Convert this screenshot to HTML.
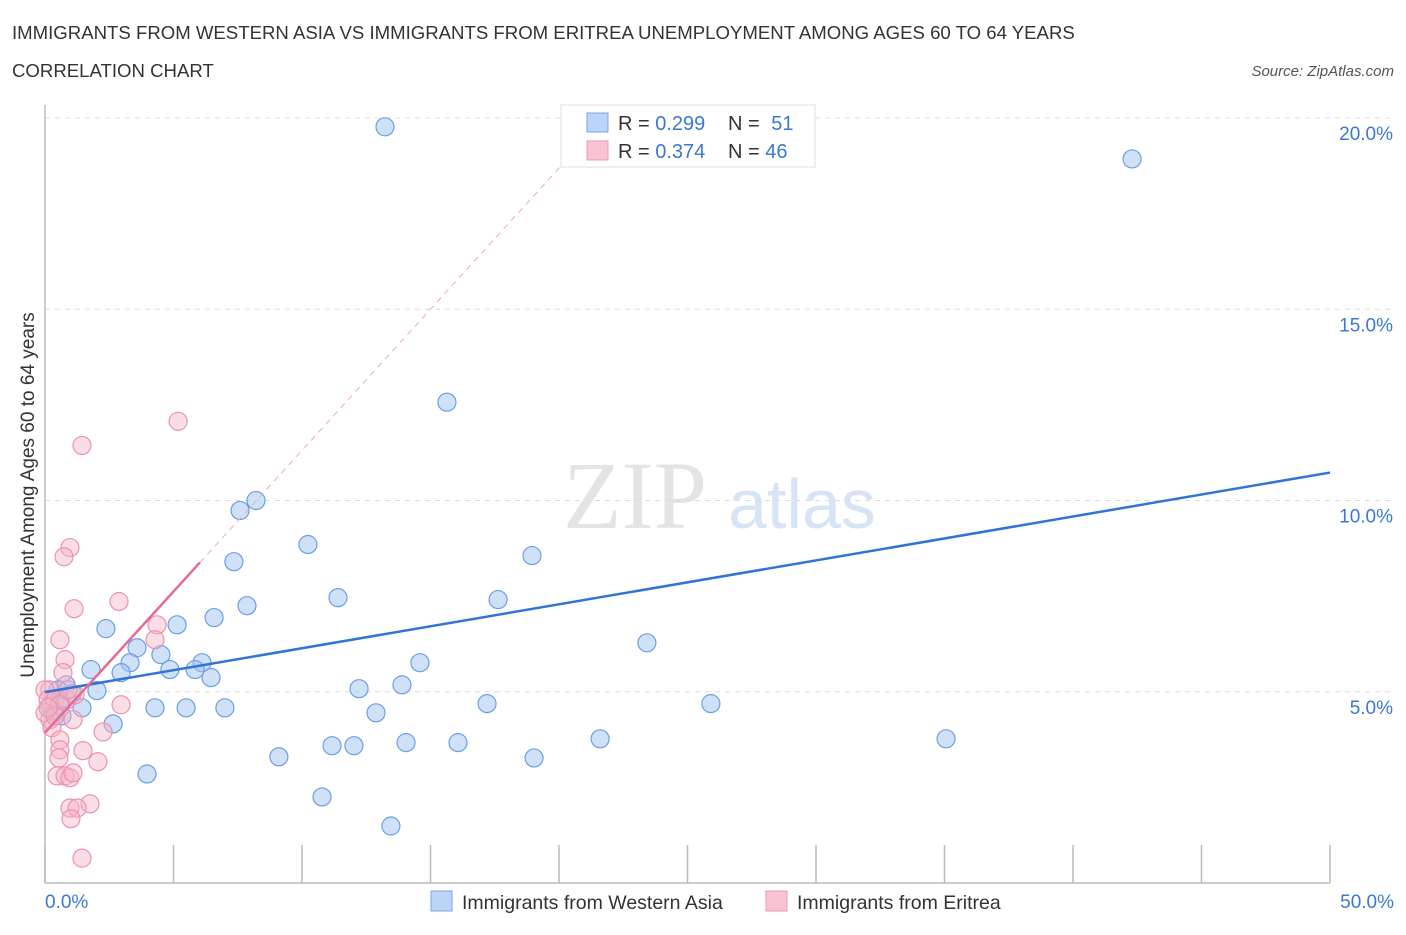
<!DOCTYPE html>
<html><head><meta charset="utf-8"><style>
body{margin:0;background:#fff;font-family:"Liberation Sans",sans-serif;}
svg text{font-family:"Liberation Sans",sans-serif;}
</style></head><body>
<svg id="chart" width="1406" height="930" viewBox="0 0 1406 930" xmlns="http://www.w3.org/2000/svg">
<text x="12" y="39" font-size="18.6" fill="#333">IMMIGRANTS FROM WESTERN ASIA VS IMMIGRANTS FROM ERITREA UNEMPLOYMENT AMONG AGES 60 TO 64 YEARS</text>
<text x="12" y="77" font-size="18.6" fill="#333">CORRELATION CHART</text>
<text x="1394" y="76" font-size="15" fill="#555" font-style="italic" text-anchor="end">Source: ZipAtlas.com</text>
<g>
<text x="635" y="528" font-size="96" fill="#e4e4e4" text-anchor="middle" style="font-family:'Liberation Serif',serif">ZIP</text>
<text x="802" y="528" font-size="70" fill="#d6e4f5" text-anchor="middle">atlas</text>
</g>
<g id="grid"></g>
<g id="axes"></g>
<g id="marks"></g>
<text transform="translate(34,495) rotate(-90)" font-size="19" fill="#333" text-anchor="middle">Unemployment Among Ages 60 to 64 years</text>
<text x="45" y="908" font-size="19" fill="#3a78d4">0.0%</text>
<text x="1394" y="908" font-size="19" fill="#3a78d4" text-anchor="end">50.0%</text>
<g>
<rect x="561" y="105" width="254" height="62" fill="#fff" stroke="#ddd"/>
<rect x="587" y="113" width="21" height="19" fill="#bcd4f5" stroke="#7aa6e6"/>
<rect x="587" y="141" width="21" height="19" fill="#f9c3d3" stroke="#ee9ab5"/>
<text x="618" y="130" font-size="20" fill="#333">R = <tspan fill="#3a78d4">0.299</tspan></text>
<text x="728" y="130" font-size="20" fill="#333">N = <tspan fill="#3a78d4" dx="6">51</tspan></text>
<text x="618" y="158" font-size="20" fill="#333">R = <tspan fill="#3a78d4">0.374</tspan></text>
<text x="728" y="158" font-size="20" fill="#333">N = <tspan fill="#3a78d4">46</tspan></text>
</g>
<g>
<rect x="431" y="891" width="21" height="20" fill="#bcd4f5" stroke="#7aa6e6"/>
<text x="462" y="909" font-size="19.5" fill="#333">Immigrants from Western Asia</text>
<rect x="766" y="891" width="21" height="20" fill="#f9c3d3" stroke="#ee9ab5"/>
<text x="797" y="909" font-size="19.5" fill="#333">Immigrants from Eritrea</text>
</g>
</svg>
<script>
const yTicks=[5,10,15,20];
const yTickLabels=["5.0%","10.0%","15.0%","20.0%"];
const xTickVals=[0,5,10,15,20,25,30,35,40,45,50];
const blueX=[13.23,42.30,15.64,8.21,7.59,10.23,18.95,7.35,11.40,17.63,7.86,6.58,5.14,2.37,23.42,3.58,4.51,3.31,6.11,14.59,1.79,4.86,5.84,2.96,6.46,13.89,0.82,12.22,2.02,1.05,0.58,17.20,25.91,1.44,4.28,5.49,7.00,12.88,0.39,0.66,2.65,21.60,35.06,14.05,16.07,11.17,12.02,9.10,19.03,3.97,10.78,13.46,0.19,0.51];
const blueY=[19.77,18.93,12.57,10.00,9.74,8.85,8.56,8.40,7.46,7.41,7.25,6.94,6.75,6.65,6.28,6.15,5.97,5.76,5.76,5.76,5.58,5.58,5.58,5.50,5.37,5.18,5.18,5.08,5.03,4.95,4.79,4.69,4.69,4.58,4.58,4.58,4.58,4.45,4.45,4.37,4.16,3.77,3.77,3.67,3.67,3.59,3.59,3.30,3.27,2.85,2.25,1.49,4.63,5.05];
const pinkX=[5.18,1.44,0.97,0.74,1.13,2.88,0.58,4.36,4.28,0.78,0.70,0.19,0.0,0.12,0.39,0.86,1.17,0.58,0.0,0.19,0.27,1.09,2.96,2.26,0.58,0.58,1.48,2.06,0.54,0.47,0.78,0.97,1.09,1.75,0.97,1.25,1.01,1.44,0.39,0.12,0.89];
const pinkY=[12.07,11.44,8.77,8.53,7.17,7.36,6.36,6.75,6.36,5.84,5.50,5.05,5.05,4.79,4.79,4.79,4.92,4.66,4.45,4.27,4.06,4.27,4.66,3.95,3.74,3.48,3.46,3.17,3.27,2.80,2.80,2.75,2.88,2.07,1.96,1.96,1.68,0.65,4.37,4.58,5.05];
const blueTrend=[4.99,10.73];
const pinkTrend=[3.93,0.738];
const pinkSolidEnd=6.03, pinkDashEnd=20.6;

const NS="http://www.w3.org/2000/svg";
const X0=45,X1=1330,Y0=883,PX_PER_Y=38.25;
const sx=v=>X0+v/50*(X1-X0);
const sy=v=>Y0-v*PX_PER_Y;
function mk(tag,attrs,parent){const e=document.createElementNS(NS,tag);for(const k in attrs)e.setAttribute(k,attrs[k]);parent.appendChild(e);return e;}
const grid=document.getElementById('grid'),axes=document.getElementById('axes'),marks=document.getElementById('marks');
yTicks.forEach((t,i)=>{
  const l=mk('line',{x1:X0,x2:1394,y1:sy(t),y2:sy(t),stroke:'#dcdcdc','stroke-dasharray':'5,5'},grid);
  
  
  const tx=mk('text',{x:1393,y:sy(t)+22,'font-size':19,fill:'#3a78d4','text-anchor':'end'},grid);
  tx.textContent=yTickLabels[i];
  
  
});
const ya=mk('line',{x1:X0,x2:X0,y1:105,y2:Y0,stroke:'#bbb','stroke-width':1.5},axes);


const xa=mk('line',{x1:X0,x2:X1,y1:Y0,y2:Y0,stroke:'#bbb','stroke-width':1.5},axes);


xTickVals.forEach(t=>{
  const l=mk('line',{x1:sx(t),x2:sx(t),y1:845,y2:Y0,stroke:'#bbb','stroke-width':1.5},axes);
  
  
});
blueX.forEach((x,i)=>{
  const c=mk('circle',{cx:sx(x),cy:sy(blueY[i]),r:9,fill:'rgba(160,195,240,0.5)',stroke:'#6c9ee2','stroke-width':1.2},marks);
  
  
});
pinkX.forEach((x,i)=>{
  const c=mk('circle',{cx:sx(x),cy:sy(pinkY[i]),r:9,fill:'rgba(247,180,200,0.45)',stroke:'#eb92b0','stroke-width':1.2},marks);
  
  
});
const bl=mk('line',{x1:sx(0),y1:sy(blueTrend[0]),x2:sx(50),y2:sy(blueTrend[1]),stroke:'#2f74d6','stroke-width':2.5},marks);


const pd=mk('line',{x1:sx(pinkSolidEnd),y1:sy(pinkTrend[0]+pinkTrend[1]*pinkSolidEnd),x2:sx(pinkDashEnd),y2:sy(pinkTrend[0]+pinkTrend[1]*pinkDashEnd),stroke:'#f0a8bf','stroke-width':1,'stroke-dasharray':'6,5'},marks);


const pl=mk('line',{x1:sx(0),y1:sy(pinkTrend[0]),x2:sx(pinkSolidEnd),y2:sy(pinkTrend[0]+pinkTrend[1]*pinkSolidEnd),stroke:'#e56b93','stroke-width':2.5},marks);


</script>
</body></html>
